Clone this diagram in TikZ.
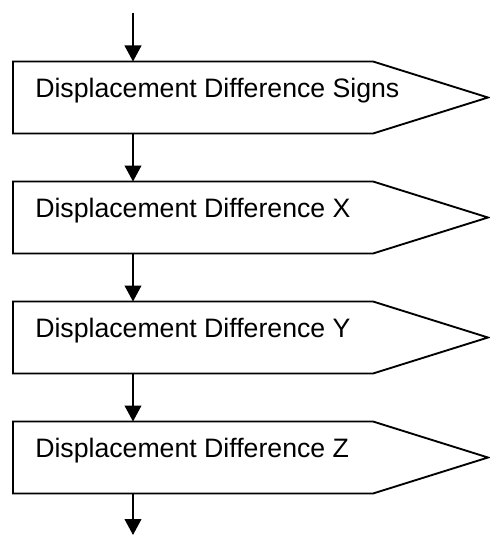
\documentclass[tikz,border=0pt]{standalone}
\usepackage{fontspec}
\setmainfont{Liberation Sans}
\usepackage{tikz}
\usetikzlibrary{arrows.meta, positioning, calc}

\begin{document}
\begin{tikzpicture}[x=0.75pt, y=-0.75pt,
  blk/.style={rectangle, draw=none, inner sep=0pt, outer sep=0pt,
              minimum width=270pt, minimum height=54pt},
  txt/.style={anchor=base west, inner sep=0pt, font=\fontsize{20}{24}\selectfont},
  shp/.style={draw=black, line width=1.4pt, fill=white, line join=miter},
  arr/.style={-{Triangle[length=12pt, width=12.5pt]}, line width=1.4pt, black},
]
  \useasboundingbox (0,0) rectangle (489,535);

  % In / out
  \coordinate (in)  at (133,13);
  \coordinate (out) at (133,535);

  % Boxes
  \node[blk] (sgn) at (193,97.5)  {};
  \node[blk] (dx)  at (193,217.5) {};
  \node[blk] (dy)  at (193,337.5) {};
  \node[blk] (dz)  at (193,457.5) {};

  % Outlines
  \draw[shp] (sgn.north west) -- (sgn.north east) -- ($(sgn.east)+(115,0)$)
             -- (sgn.south east) -- (sgn.south west) -- cycle;
  \draw[shp] (dx.north west) -- (dx.north east) -- ($(dx.east)+(115,0)$)
             -- (dx.south east) -- (dx.south west) -- cycle;
  \draw[shp] (dy.north west) -- (dy.north east) -- ($(dy.east)+(115,0)$)
             -- (dy.south east) -- (dy.south west) -- cycle;
  \draw[shp] (dz.north west) -- (dz.north east) -- ($(dz.east)+(115,0)$)
             -- (dz.south east) -- (dz.south west) -- cycle;

  % Labels
  \node[txt] (lsgn) at ($(sgn.west)+(22,0)$) {Displacement Difference Signs};
  \node[txt] (ldx)  at ($(dx.west)+(22,0)$)  {Displacement Difference X};
  \node[txt] (ldy)  at ($(dy.west)+(22,0)$)  {Displacement Difference Y};
  \node[txt] (ldz)  at ($(dz.west)+(22,0)$)  {Displacement Difference Z};

  % Connections
  \draw[arr] (in) -- (in |- sgn.north);
  \draw[arr] (in |- sgn.south) -- (in |- dx.north);
  \draw[arr] (in |- dx.south) -- (in |- dy.north);
  \draw[arr] (in |- dy.south) -- (in |- dz.north);
  \draw[arr] (in |- dz.south) -- (out);
\end{tikzpicture}
\end{document}
